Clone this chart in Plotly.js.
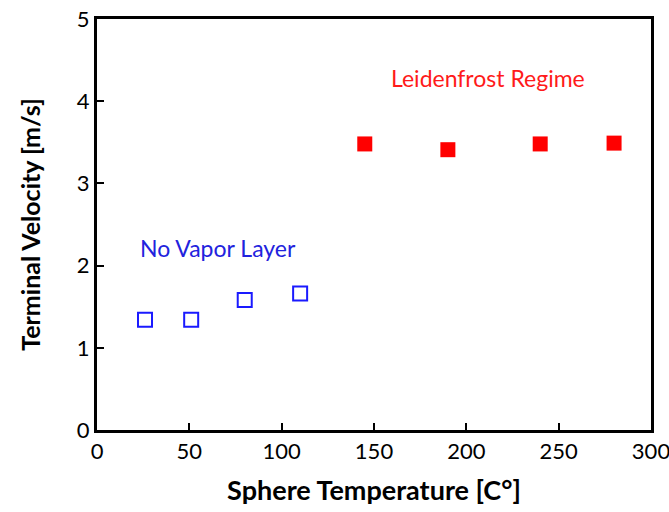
<!DOCTYPE html>
<html><head><meta charset="utf-8">
<script src="https://cdn.plot.ly/plotly-3.0.1.min.js"></script>
<style>body{margin:0;background:#fff}#chart{width:669px;height:512px}</style>
</head><body><div id="chart"></div>
<script>
const noVaporTemp = [26, 51, 80, 110];
const noVaporVel = [1.34, 1.34, 1.58, 1.66];
const leidenTemp = [145, 190, 240, 280];
const leidenVel = [3.48, 3.41, 3.48, 3.49];
const xTicks = [0, 50, 100, 150, 200, 250, 300];
const yTicks = [0, 1, 2, 3, 4, 5];

const fontFam = 'Lato, "Open Sans", sans-serif';
const traces = [
  {x: noVaporTemp, y: noVaporVel, type: 'scatter', mode: 'markers',
   marker: {symbol: 'square-open', size: 14, color: '#1a1aff', line: {width: 2, color: '#1a1aff'}}},
  {x: leidenTemp, y: leidenVel, type: 'scatter', mode: 'markers',
   marker: {symbol: 'square', size: 15, color: '#ff0000'}}
];
const layout = {
  width: 669, height: 512,
  margin: {l: 97, r: 18, t: 19, b: 82},
  paper_bgcolor: '#fff', plot_bgcolor: '#fff',
  showlegend: false,
  font: {family: fontFam, color: '#000'},
  xaxis: {range: [0, 300], tickvals: xTicks, ticktext: xTicks.map(String),
    showgrid: false, zeroline: false, showline: true, mirror: true,
    linecolor: '#000', linewidth: 3, ticks: 'inside', ticklen: 7, tickwidth: 2, tickcolor: '#000',
    ticklabeloverflow: 'allow',
    tickfont: {size: 22, family: fontFam, color: '#000'},
    title: {text: 'Sphere Temperature [C°]', font: {size: 27, family: fontFam, color: '#000', weight: 'bold'}, standoff: 18}},
  yaxis: {range: [0, 5], tickvals: yTicks, ticktext: yTicks.map(String),
    showgrid: false, zeroline: false, showline: true, mirror: true,
    linecolor: '#000', linewidth: 3, ticks: 'inside', ticklen: 7, tickwidth: 2, tickcolor: '#000',
    tickfont: {size: 22, family: fontFam, color: '#000'},
    title: {text: 'Terminal Velocity [m/s]', font: {size: 25, family: fontFam, color: '#000', weight: 'bold'}, standoff: 30}},
  annotations: [
    {x: 212, y: 4.28, xref: 'x', yref: 'y', text: 'Leidenfrost Regime', showarrow: false,
     font: {size: 23, color: '#ff1a1a', family: fontFam}, xanchor: 'center'},
    {x: 22, y: 2.22, xref: 'x', yref: 'y', text: 'No Vapor Layer', showarrow: false,
     font: {size: 23, color: '#2222dd', family: fontFam}, xanchor: 'left'}
  ]
};
Plotly.newPlot('chart', traces, layout, {displayModeBar: false});
</script></body></html>
